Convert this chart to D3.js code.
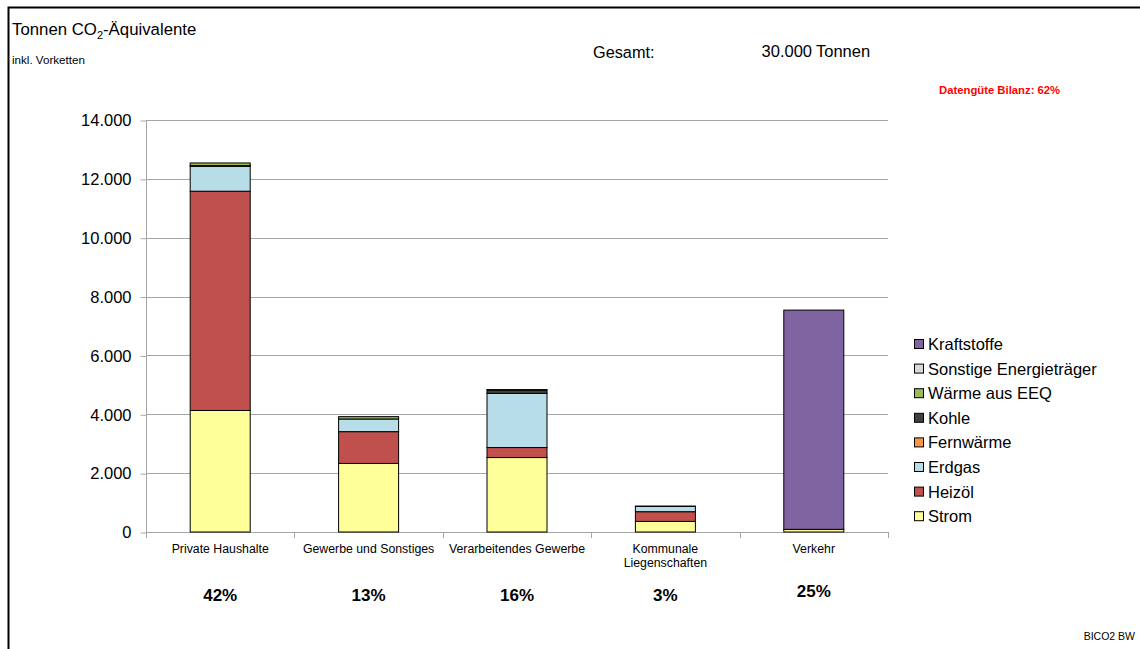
<!DOCTYPE html>
<html>
<head>
<meta charset="utf-8">
<script src="https://cdn.jsdelivr.net/npm/d3@7"></script>
<style>
  body { margin: 0; background: #fff; }
  svg { font-family: "Liberation Sans", Arial, sans-serif; }
</style>
</head>
<body>
<svg id="chart"></svg>
<script>
// sectors (x categories)
let categories = ["Private Haushalte", "Gewerbe und Sonstiges", "Verarbeitendes Gewerbe", "Kommunale Liegenschaften", "Verkehr"];
let shares = ["42%", "13%", "16%", "3%", "25%"];

// energy carriers, bottom to top
let carriers = ["Strom", "Heizöl", "Erdgas", "Fernwärme", "Kohle", "Wärme aus EEQ", "Sonstige Energieträger", "Kraftstoffe"];
let colors = ["#ffff99", "#c0504d", "#b7dde8", "#f79646", "#404040", "#9bbb59", "#d9d9d9", "#8064a2"];

// tonnes per carrier, one value per sector
let strom       = [4130, 2330, 2530, 360, 90];
let heizoel     = [7450, 1080, 340, 330, 0];
let erdgas      = [850, 430, 1840, 180, 0];
let fernwaerme  = [0, 0, 0, 0, 0];
let kohle       = [20, 0, 110, 10, 0];
let waermeEEQ   = [90, 80, 20, 0, 0];
let sonstige    = [0, 0, 0, 0, 0];
let kraftstoffe = [0, 0, 0, 0, 7450];

let yTicks = [0, 2000, 4000, 6000, 8000, 10000, 12000, 14000];

let width = 1140;
let height = 649;
let plotLeft = 146, plotRight = 888, plotTop = 120, plotBottom = 532;

let svg = d3.select("#chart").attr("width", width).attr("height", height);

let series = [strom, heizoel, erdgas, fernwaerme, kohle, waermeEEQ, sonstige, kraftstoffe];
let rows = categories.map((c, i) => {
    let row = { cat: c };
    carriers.forEach((k, j) => { row[k] = series[j][i]; });
    return row;
});
let stacked = d3.stack().keys(carriers)(rows);

let de = d3.formatLocale({ decimal: ",", thousands: ".", grouping: [3], currency: ["", " €"] });
let fmt = de.format(",.0f");

let xScale = d3.scaleBand().domain(categories).range([plotLeft, plotRight]).paddingInner(0).paddingOuter(0);
let yScale = d3.scaleLinear().domain([0, 14000]).range([plotBottom, plotTop]);

// outer frame (top and left edge)
svg.append("path")
    .attr("d", "M8.5,649 V7.5 H1140")
    .attr("fill", "none").attr("stroke", "#000").attr("stroke-width", 2);

// gridlines
svg.append("g").selectAll("line")
    .data(yTicks.slice(1))
    .enter().append("line")
    .attr("x1", plotLeft).attr("x2", plotRight)
    .attr("y1", d => Math.round(yScale(d)) + 0.5).attr("y2", d => Math.round(yScale(d)) + 0.5)
    .attr("stroke", "#a6a6a6").attr("stroke-width", 1);

// y axis
let yAxis = d3.axisLeft(yScale).tickValues(yTicks).tickFormat(fmt).tickSize(6).tickPadding(9);
let gy = svg.append("g").attr("transform", "translate(" + (plotLeft + 0.5) + ",0.5)").call(yAxis);
gy.select(".domain").attr("stroke", "#a6a6a6").attr("d", "M0," + plotTop + "V" + plotBottom);
gy.selectAll(".tick line").attr("stroke", "#a6a6a6");
gy.selectAll(".tick text").attr("font-size", 16.5).attr("fill", "#000").attr("font-family", "Liberation Sans, Arial");

// x axis line and separator ticks
svg.append("line")
    .attr("x1", plotLeft).attr("x2", plotRight)
    .attr("y1", plotBottom + 0.5).attr("y2", plotBottom + 0.5)
    .attr("stroke", "#a6a6a6");
let bounds = categories.map(c => xScale(c)).concat([plotRight]);
svg.append("g").selectAll("line")
    .data(bounds)
    .enter().append("line")
    .attr("x1", d => Math.round(d) + 0.5).attr("x2", d => Math.round(d) + 0.5)
    .attr("y1", plotBottom).attr("y2", plotBottom + 6)
    .attr("stroke", "#a6a6a6");

// bars
let barW = 60;
svg.append("g").selectAll("g")
    .data(stacked)
    .enter().append("g")
    .attr("fill", (d, i) => colors[i])
    .selectAll("rect")
    .data(d => d.filter(p => p[1] - p[0] > 0))
    .enter().append("rect")
    .attr("x", p => xScale(p.data.cat) + xScale.bandwidth() / 2 - barW / 2)
    .attr("width", barW)
    .attr("y", p => yScale(p[1]))
    .attr("height", p => yScale(p[0]) - yScale(p[1]))
    .attr("stroke", "#000").attr("stroke-width", 1);

// category labels
let catLabels = svg.append("g").selectAll("text")
    .data(categories)
    .enter().append("text")
    .attr("x", d => xScale(d) + xScale.bandwidth() / 2)
    .attr("y", 553)
    .attr("text-anchor", "middle")
    .attr("font-size", 12.3);
catLabels.each(function (d) {
    let t = d3.select(this);
    let parts = d === "Kommunale Liegenschaften" ? ["Kommunale", "Liegenschaften"] : [d];
    parts.forEach((p, i) => {
        t.append("tspan").attr("x", t.attr("x")).attr("dy", i === 0 ? 0 : 14).text(p);
    });
});

// share labels
svg.append("g").selectAll("text")
    .data(shares)
    .enter().append("text")
    .attr("x", (d, i) => xScale(categories[i]) + xScale.bandwidth() / 2)
    .attr("y", (d, i) => i === 4 ? 597 : 601)
    .attr("text-anchor", "middle")
    .attr("font-size", 17).attr("font-weight", "bold")
    .text(d => d);

// legend
let legendItems = carriers.map((c, i) => ({ name: c, color: colors[i] })).reverse();
let legend = svg.append("g").selectAll("g")
    .data(legendItems)
    .enter().append("g")
    .attr("transform", (d, i) => "translate(914," + (339 + i * 24.6) + ")");
legend.append("rect")
    .attr("x", 0.5).attr("y", 0.5).attr("width", 9).attr("height", 9)
    .attr("fill", d => d.color).attr("stroke", "#000").attr("stroke-width", 1);
legend.append("text")
    .attr("x", 14).attr("y", 11)
    .attr("font-size", 16.5)
    .text(d => d.name);

// titles
let title = svg.append("text").attr("x", 12).attr("y", 35).attr("font-size", 16.8);
title.append("tspan").text("Tonnen CO");
title.append("tspan").attr("font-size", 11).attr("dy", 4).text("2");
title.append("tspan").attr("dy", -4).text("-Äquivalente");
svg.append("text").attr("x", 12).attr("y", 64).attr("font-size", 11.6).text("inkl. Vorketten");

svg.append("text").attr("x", 593).attr("y", 58).attr("font-size", 16.3).text("Gesamt:");
svg.append("text").attr("x", 812).attr("y", 57).attr("font-size", 16.5).attr("text-anchor", "end").text("30.000");
svg.append("text").attr("x", 816).attr("y", 57).attr("font-size", 16.5).text("Tonnen");

svg.append("text").attr("x", 939).attr("y", 94).attr("font-size", 11.3).attr("font-weight", "bold")
    .attr("fill", "#ff0000").text("Datengüte Bilanz: 62%");

svg.append("text").attr("x", 1135).attr("y", 640).attr("font-size", 10.5).attr("text-anchor", "end").text("BICO2 BW");
</script>
</body>
</html>
